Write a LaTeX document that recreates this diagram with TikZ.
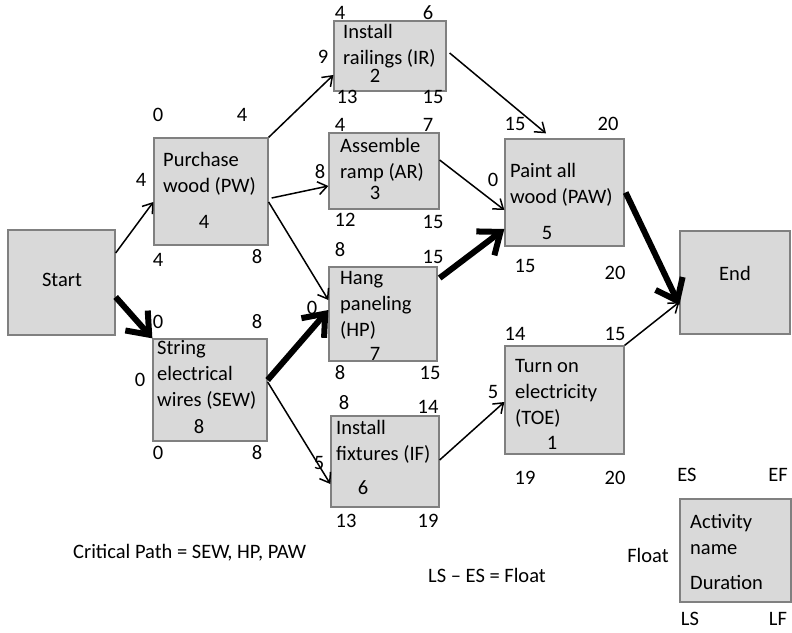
\documentclass[tikz,border=0pt]{standalone}
\usepackage{fontspec}
\setmainfont{Carlito}
\usetikzlibrary{arrows.meta}
\tikzset{
  act/.style={draw=boxedge, fill=boxfill, line width=1.3pt, inner sep=0pt},
  txt/.style={align=left, anchor=west, inner sep=0pt},
  num/.style={inner sep=0pt},
  thin/.style={line width=1.5pt, -{Straight Barb[length=9pt,width=13pt,line width=1.5pt]}},
  crit/.style={line width=6pt, -{Straight Barb[length=19pt,width=30pt,line width=6pt]}},
}
\definecolor{boxfill}{HTML}{D9D9D9}
\definecolor{boxedge}{HTML}{808080}
\begin{document}
\begin{tikzpicture}[x=1pt,y=-1pt,font=\fontsize{20.5}{26}\selectfont]
\useasboundingbox (0,0) rectangle (792,632);

% activity boxes
\node[act, minimum width=107pt, minimum height=105pt] (start) at (61.5,282.5) {};
\node[act, minimum width=114pt, minimum height=107pt] (pw)  at (211,191.5) {};
\node[act, minimum width=112pt, minimum height=70pt]  (ir)  at (390,56) {};
\node[act, minimum width=110pt, minimum height=76pt]  (ar)  at (384,171) {};
\node[act, minimum width=108pt, minimum height=94pt]  (hp)  at (383,314) {};
\node[act, minimum width=114pt, minimum height=102pt] (sew) at (210,390) {};
\node[act, minimum width=108pt, minimum height=91pt]  (if)  at (385,461.5) {};
\node[act, minimum width=119pt, minimum height=107pt] (paw) at (564.5,192.5) {};
\node[act, minimum width=110pt, minimum height=103pt] (end) at (735,282.5) {};
\node[act, minimum width=119pt, minimum height=108pt] (toe) at (564.5,400) {};
\node[act, minimum width=111pt, minimum height=103pt] (key) at (735.5,550.5) {};

% box texts
\node (tstart) at (62,280) {Start};
\node (tend) at (735,273) {End};
\node[txt] (tpw)  at (163,173.5) {Purchase\\wood (PW)};
\node[txt] (tir)  at (343,46) {Install\\railings (IR)};
\node[txt] (tar)  at (340,160.5) {Assemble\\ramp (AR)};
\node[txt] (thp)  at (340,305) {Hang\\paneling\\(HP)};
\node[txt] (tsew) at (157,374.5) {String\\electrical\\wires (SEW)};
\node[txt] (tif)  at (336,441.5) {Install\\fixtures (IF)};
\node[txt] (tpaw) at (510,185) {Paint all\\wood (PAW)};
\node[txt] (ttoe) at (515,393) {Turn on\\electricity\\(TOE)};
\node[txt] (tkey) at (690,534.5) {Activity\\name};
\node[txt] (tdur) at (690,582) {Duration};

% durations
\node[num] (dpw)  at (204,222) {4};
\node[num] (dir)  at (375,76) {2};
\node[num] (dar)  at (375,193) {3};
\node[num] (dhp)  at (375,354) {7};
\node[num] (dsew) at (199,427) {8};
\node[num] (dif)  at (363,488) {6};
\node[num] (dpaw) at (547,233) {5};
\node[num] (dtoe) at (552,443) {1};

% ES / EF / float / LS / LF
\node[num] at (158,115) {0};  \node[num] at (242,115) {4};
\node[num] at (141,180) {4};
\node[num] at (158,260) {4};  \node[num] at (257,257) {8};

\node[num] at (340,13) {4};   \node[num] at (428,13) {6};
\node[num] at (323,57) {9};
\node[num] at (347,97) {13};  \node[num] at (433,97) {15};

\node[num] at (340,125) {4};  \node[num] at (428,125) {7};
\node[num] at (320,172) {8};
\node[num] at (345,220) {12}; \node[num] at (433,222) {15};

\node[num] at (340,250) {8};  \node[num] at (433,257) {15};
\node[num] at (312,308) {0};
\node[num] at (340,373) {8};  \node[num] at (430,373) {15};

\node[num] at (158,322) {0};  \node[num] at (257,322) {8};
\node[num] at (140,380) {0};
\node[num] at (158,453) {0};  \node[num] at (257,453) {8};

\node[num] at (344,403) {8};  \node[num] at (428,407) {14};
\node[num] at (319,463) {5};
\node[num] at (346,521) {13}; \node[num] at (428,521) {19};

\node[num] at (515,124) {15}; \node[num] at (608,124) {20};
\node[num] at (493,180) {0};
\node[num] at (525,266) {15}; \node[num] at (615,273) {20};

\node[num] at (515,334) {14}; \node[num] at (615,334) {15};
\node[num] at (493,392) {5};
\node[num] at (525,478) {19}; \node[num] at (615,478) {20};

% legend labels
\node[num] (les) at (687,475) {ES};
\node[num] (lef) at (778,475) {EF};
\node[num] (lfl) at (648,555) {Float};
\node[num] (lls) at (690,619) {LS};
\node[num] (llf) at (778,619) {LF};

% notes
\node[anchor=west, inner sep=0pt] (cp) at (73,553) {Critical Path = SEW, HP, PAW};
\node[anchor=west, inner sep=0pt] (fl) at (428,575) {LS -- ES = Float};

% precedence arrows
\draw[thin] ([yshift=29.5pt]start.east) -- ([yshift=-10.5pt]pw.west);
\draw[crit] ([yshift=-14.5pt]start.east) -- (sew.north west);
\draw[thin] (pw.north east) -- ([yshift=-19pt]ir.west);
\draw[thin] ([shift={(3pt,-6.5pt)}]pw.east) -- ([yshift=-15pt]ar.west);
\draw[thin] ([yshift=-10.5pt]pw.east) -- ([yshift=14pt]hp.west);
\draw[crit] ([yshift=10pt]sew.east) -- ([yshift=4pt]hp.west);
\draw[thin] ([yshift=8pt]sew.east) -- ([yshift=-22.5pt]if.west);
\draw[thin] ([shift={(3pt,3pt)}]ir.east) -- ([shift={(-18.5pt,5pt)}]paw.north);
\draw[thin] ([yshift=11pt]ar.east) -- ([yshift=-17.5pt]paw.west);
\draw[crit] ([shift={(2pt,36pt)}]hp.east) -- ([yshift=-36.5pt]paw.west);
\draw[crit] ([xshift=1pt]paw.east) -- ([yshift=-22.5pt]end.west);
\draw[thin] ([yshift=1.5pt]if.east) -- ([yshift=-2pt]toe.west);
\draw[thin] (toe.north east) -- ([yshift=-19.5pt]end.west);
\end{tikzpicture}
\end{document}
